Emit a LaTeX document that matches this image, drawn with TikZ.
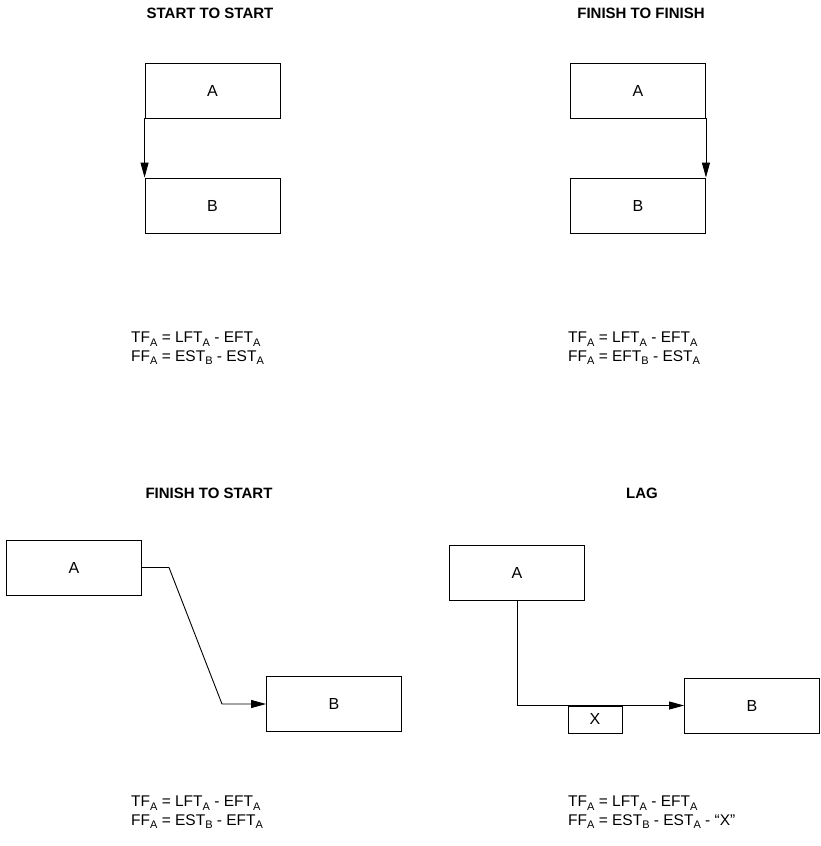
\documentclass[tikz,border=0pt]{standalone}
\usepackage{fontspec}
\setmainfont{Liberation Sans}
\usetikzlibrary{arrows.meta}
\newcommand{\lowsub}[1]{\raisebox{-3.5pt}{\fontsize{11}{11}\selectfont #1}}
\tikzset{
  actbox/.style={draw,line width=0.9pt,minimum width=135pt,minimum height=55pt,inner sep=0pt,font=\fontsize{16}{18}\selectfont},
  lagbox/.style={draw,line width=0.9pt,minimum width=54pt,minimum height=27pt,inner sep=0pt,font=\fontsize{16}{18}\selectfont},
  heading/.style={font=\bfseries\fontsize{15}{18}\selectfont},
  formula/.style={anchor=north west,align=left,inner sep=0pt,font=\fontsize{15.5}{18.5}\selectfont},
  link/.style={line width=0.9pt,-{Triangle[length=15pt,width=8pt]}}
}

\begin{document}
\begin{tikzpicture}[x=1pt,y=-1pt]
    \useasboundingbox (0,0) rectangle (820,846);

    % Start to start
    \node[heading] (sstitle) at (210,13) {START TO START};
    \node[actbox] (ssA) at (212.5,90.5) {A};
    \node[actbox] (ssB) at (212.5,205.5) {B};
    \draw[link] (ssA.south west) -- (ssB.north west);
    \node[formula] (ssform) at (131,332) {TF\lowsub{A} = LFT\lowsub{A} - EFT\lowsub{A}\\FF\lowsub{A} = EST\lowsub{B} - EST\lowsub{A}};

    % Finish to finish
    \node[heading] (fftitle) at (641,13) {FINISH TO FINISH};
    \node[actbox] (ffA) at (638,90.5) {A};
    \node[actbox] (ffB) at (638,205.5) {B};
    \draw[link] (ffA.south east) -- (ffB.north east);
    \node[formula] (ffform) at (568,332) {TF\lowsub{A} = LFT\lowsub{A} - EFT\lowsub{A}\\FF\lowsub{A} = EFT\lowsub{B} - EST\lowsub{A}};

    % Finish to start
    \node[heading] (fstitle) at (209,493) {FINISH TO START};
    \node[actbox] (fsA) at (74,567.5) {A};
    \node[actbox] (fsB) at (334,704) {B};
    \coordinate (fsbendA) at (169,567.5);
    \coordinate (fsbendB) at (222,704);
    \draw[link] (fsA.east) -- (fsbendA) -- (fsbendB) -- (fsB.west);
    \node[formula] (fsform) at (131,796) {TF\lowsub{A} = LFT\lowsub{A} - EFT\lowsub{A}\\FF\lowsub{A} = EST\lowsub{B} - EFT\lowsub{A}};

    % Lag
    \node[heading] (lagtitle) at (642,493) {LAG};
    \node[actbox] (lagA) at (517,572.5) {A};
    \node[actbox] (lagB) at (752,705.5) {B};
    \draw[link] (lagA.south) |- (lagB.west);
    \node[lagbox,anchor=north] (lagX) at (595,705.5) {X};
    \node[formula] (lagform) at (568,796) {TF\lowsub{A} = LFT\lowsub{A} - EFT\lowsub{A}\\FF\lowsub{A} = EST\lowsub{B} - EST\lowsub{A} - “X”};

\end{tikzpicture}
\end{document}
